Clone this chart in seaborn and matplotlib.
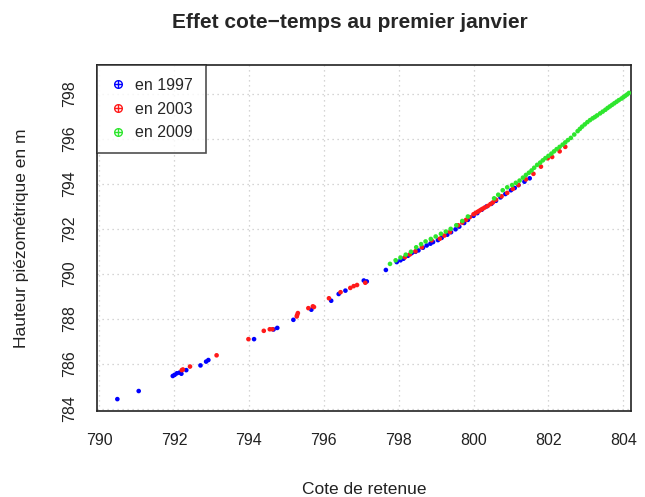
import matplotlib
matplotlib.use("Agg")
import matplotlib.pyplot as plt
from matplotlib.lines import Line2D
import seaborn as sns
import pandas as pd

# Cote de retenue (x) et hauteur piézométrique (y) au 1er janvier
cote_1997 = [790.49, 791.06, 791.97, 792.02, 792.08, 792.15, 792.20, 792.33, 792.71,
             792.86, 792.92, 794.14, 794.66, 794.76, 795.19, 795.67, 796.20, 796.40,
             796.58, 797.07, 797.15, 797.66, 797.95, 798.05, 798.13, 798.25, 798.35,
             798.45, 798.53, 798.65, 798.75, 798.85, 798.92, 799.05, 799.15, 799.30,
             799.40, 799.52, 799.62, 799.75, 799.85, 800.00, 800.10, 800.22, 800.35,
             800.48, 800.60, 800.72, 800.85, 801.00, 801.10, 801.20, 801.36, 801.50]
hauteur_1997 = [784.42, 784.78, 785.45, 785.50, 785.57, 785.60, 785.55, 785.71, 785.92,
                786.09, 786.16, 787.09, 787.52, 787.59, 787.95, 788.40, 788.80, 789.10,
                789.25, 789.70, 789.66, 790.17, 790.52, 790.60, 790.67, 790.80, 790.92,
                790.98, 791.04, 791.16, 791.26, 791.34, 791.41, 791.50, 791.60, 791.74,
                791.85, 791.98, 792.10, 792.26, 792.40, 792.58, 792.70, 792.85, 793.00,
                793.12, 793.25, 793.40, 793.55, 793.72, 793.82, 793.95, 794.10, 794.25]

cote_2003 = [792.21, 792.24, 792.43, 793.14, 793.99, 794.40, 794.56, 794.63, 795.28,
             795.29, 795.31, 795.59, 795.71, 795.74, 796.14, 796.45, 796.71, 796.80,
             796.89, 797.11, 798.17, 798.30, 798.45, 798.62, 798.88, 799.10, 799.22,
             799.37, 799.59, 799.70, 799.80, 799.90, 800.00, 800.05, 800.10, 800.15,
             800.20, 800.25, 800.30, 800.38, 800.45, 800.52, 800.60, 800.75, 800.90,
             801.05, 801.20, 801.40, 801.60, 801.80, 801.98, 802.10, 802.30, 802.45]
hauteur_2003 = [785.71, 785.74, 785.87, 786.37, 787.09, 787.46, 787.53, 787.53, 788.10,
                788.16, 788.25, 788.47, 788.55, 788.52, 788.91, 789.18, 789.37, 789.45,
                789.50, 789.60, 790.74, 790.86, 791.00, 791.18, 791.49, 791.56, 791.70,
                791.86, 792.16, 792.28, 792.40, 792.52, 792.65, 792.70, 792.75, 792.80,
                792.85, 792.90, 792.95, 793.02, 793.10, 793.18, 793.30, 793.45, 793.60,
                793.78, 793.95, 794.20, 794.45, 794.77, 795.14, 795.20, 795.45, 795.65]

cote_2009 = [797.77, 797.92, 798.05, 798.19, 798.33, 798.47, 798.60, 798.72, 798.86,
             798.99, 799.13, 799.26, 799.39, 799.54, 799.70, 799.85, 800.55, 800.66,
             800.78, 800.90, 801.03, 801.13, 801.23, 801.32, 801.40, 801.48, 801.55,
             801.62, 801.70, 801.78, 801.85, 801.92, 802.00, 802.08, 802.15, 802.22,
             802.30, 802.38, 802.45, 802.52, 802.60, 802.69, 802.78, 802.84, 802.90,
             802.97, 803.04, 803.11, 803.18, 803.24, 803.30, 803.38, 803.45, 803.52,
             803.58, 803.64, 803.70, 803.76, 803.82, 803.88, 803.95, 804.00, 804.05,
             804.10, 804.15]
hauteur_2009 = [790.44, 790.60, 790.72, 790.85, 790.98, 791.18, 791.32, 791.44, 791.55,
                791.66, 791.78, 791.88, 792.00, 792.16, 792.35, 792.55, 793.36, 793.52,
                793.72, 793.85, 793.95, 794.05, 794.15, 794.28, 794.40, 794.50, 794.60,
                794.72, 794.85, 794.95, 795.05, 795.15, 795.25, 795.35, 795.45, 795.55,
                795.65, 795.75, 795.85, 795.95, 796.05, 796.20, 796.35, 796.45, 796.55,
                796.65, 796.75, 796.84, 796.92, 796.98, 797.05, 797.14, 797.22, 797.30,
                797.38, 797.45, 797.52, 797.59, 797.66, 797.73, 797.80, 797.86, 797.92,
                797.98, 798.05]

annees = ["en 1997", "en 2003", "en 2009"]
couleurs = {"en 1997": "#0000ff", "en 2003": "#ff1a1a", "en 2009": "#2ee62e"}
x_ticks = [790, 792, 794, 796, 798, 800, 802, 804]
y_ticks = [784, 786, 788, 790, 792, 794, 796, 798]

df = pd.concat([
    pd.DataFrame({"cote": cote_1997, "hauteur": hauteur_1997, "annee": annees[0]}),
    pd.DataFrame({"cote": cote_2003, "hauteur": hauteur_2003, "annee": annees[1]}),
    pd.DataFrame({"cote": cote_2009, "hauteur": hauteur_2009, "annee": annees[2]}),
], ignore_index=True)

sns.set_style("white")
plt.rcParams["font.family"] = ["Liberation Sans", "DejaVu Sans"]

fig = plt.figure(figsize=(6.45, 4.97), dpi=100)
ax = fig.add_axes([0.150, 0.173, 0.828, 0.696])

sns.scatterplot(data=df, x="cote", y="hauteur", hue="annee", palette=couleurs,
                hue_order=annees, s=11, linewidth=0, edgecolor="none",
                legend=False, ax=ax, zorder=3)

ax.set_xlim(789.94, 804.2)
ax.set_ylim(783.89, 799.29)
ax.set_xticks(x_ticks)
ax.set_yticks(y_ticks)
ax.set_xticklabels([str(v) for v in x_ticks], fontsize=11.5)
ax.set_yticklabels([str(v) for v in y_ticks], fontsize=11.5, rotation=90, va="center")
ax.tick_params(axis="both", direction="out", length=6, width=1.1, color="#222222",
               labelcolor="#222222", pad=8)
ax.tick_params(axis="x", pad=10)
ax.grid(True, color="#c8c8c8", linestyle=(0, (1, 3)), linewidth=0.9)
for sp in ax.spines.values():
    sp.set_visible(True)
    sp.set_color("#222222")
    sp.set_linewidth(1.2)

ax.set_xlabel("Cote de retenue", fontsize=12.5, color="#222222", labelpad=24)
ax.set_ylabel("Hauteur piézométrique en m", fontsize=12.5, color="#222222", labelpad=24)
ax.set_title("Effet cote\u2212temps au premier janvier", fontsize=15,
             fontweight="bold", pad=27, x=0.474)

handles = []
for a in annees:
    circ = Line2D([], [], marker="o", markersize=5.5, markerfacecolor="none",
                  markeredgecolor=couleurs[a], markeredgewidth=1.0, linestyle="none")
    plus = Line2D([], [], marker="+", markersize=5.5, color=couleurs[a],
                  markeredgewidth=1.0, linestyle="none")
    handles.append((circ, plus))
leg = ax.legend(handles, annees, loc="upper left", fontsize=11.5, frameon=True,
                fancybox=False, edgecolor="#222222", borderaxespad=0,
                handlelength=1.0, handletextpad=0.6, borderpad=0.8, labelspacing=0.55)
leg.get_frame().set_linewidth(1.2)
leg.set_zorder(5)

fig.savefig("out.png", dpi=100)
